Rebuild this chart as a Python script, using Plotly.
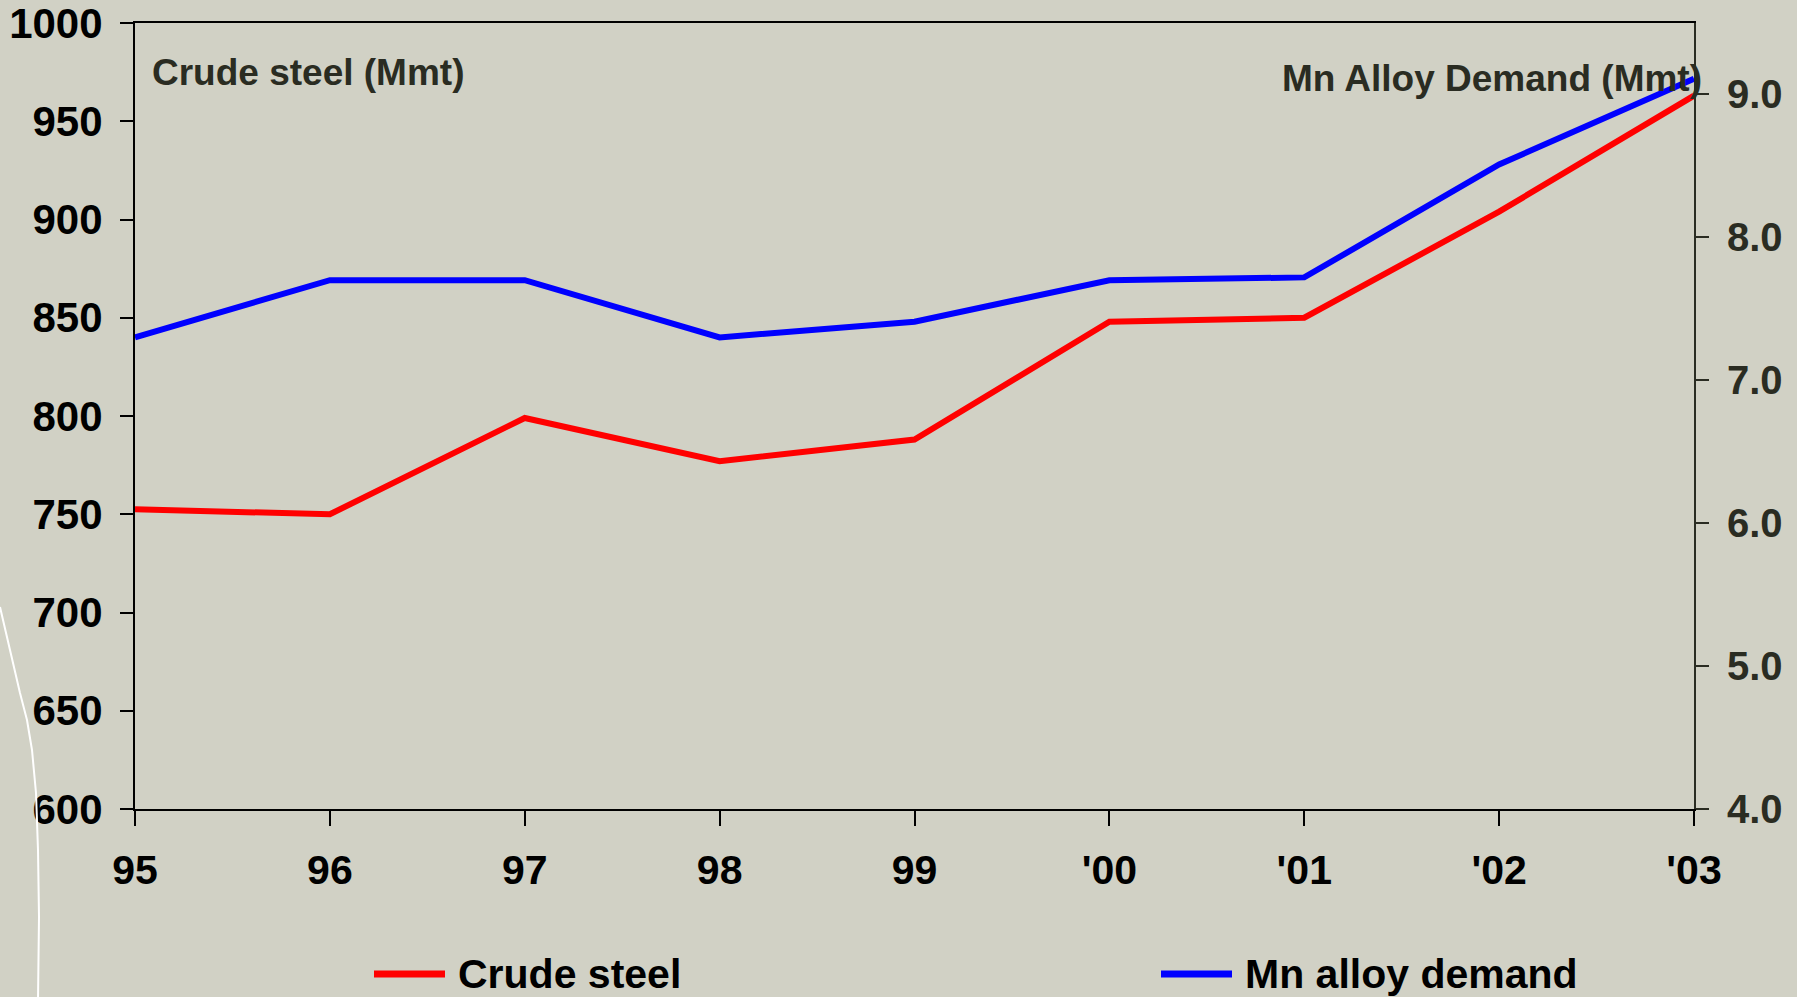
import plotly.graph_objects as go

# Year labels along the x axis
years = ["95", "96", "97", "98", "99", "'00", "'01", "'02", "'03"]

# Crude steel production, million metric tonnes (left axis)
crude_steel = [752.5, 750, 799, 777, 788, 848, 850, 904, 963]

# Manganese alloy demand, million metric tonnes (right axis)
mn_alloy = [7.30, 7.70, 7.70, 7.30, 7.41, 7.70, 7.72, 8.51, 9.11]

# Tick values / labels
left_ticks = [600, 650, 700, 750, 800, 850, 900, 950, 1000]
right_ticks = [4.0, 5.0, 6.0, 7.0, 8.0, 9.0]
right_tick_text = [f"{v:.1f}" for v in right_ticks]

BG = "#d1d1c5"
DARK = "#2a2c22"
SANS = "Liberation Sans, Arial, sans-serif"

fig = go.Figure()
fig.add_trace(go.Scatter(
    x=years, y=crude_steel, mode="lines", name="Crude steel",
    line=dict(color="#ff0000", width=6), showlegend=False, yaxis="y",
))
fig.add_trace(go.Scatter(
    x=years, y=mn_alloy, mode="lines", name="Mn alloy demand",
    line=dict(color="#0000ff", width=6), showlegend=False, yaxis="y2",
))

W, H = 1797, 997
L, R, T, B = 135, 103, 23, 188
PW, PH = W - L - R, H - T - B


def px(x):
    return (x - L) / PW


def py(y):
    return (H - B - y) / PH


fig.update_layout(
    width=W, height=H,
    margin=dict(l=L, r=R, t=T, b=B, pad=0, autoexpand=False),
    paper_bgcolor=BG, plot_bgcolor=BG,
    showlegend=False,
    xaxis=dict(
        type="category", range=[0, 8], automargin=False,
        showgrid=False, zeroline=False,
        showline=True, linecolor="black", linewidth=2, mirror=True,
        ticks="outside", ticklen=15, tickwidth=2, tickcolor="black",
        ticklabelstandoff=9, ticklabeloverflow="allow",
        tickfont=dict(family=SANS, size=41, color="black", weight="bold"),
    ),
    yaxis=dict(
        range=[600, 1000], tickvals=left_ticks, automargin=False,
        showgrid=False, zeroline=False,
        showline=True, linecolor="black", linewidth=2,
        ticks="outside", ticklen=13, tickwidth=2, tickcolor="black",
        ticklabelstandoff=9, ticklabeloverflow="allow",
        tickfont=dict(family=SANS, size=42, color="black", weight="bold"),
    ),
    yaxis2=dict(
        range=[4.0, 9.5], tickvals=right_ticks, ticktext=right_tick_text,
        overlaying="y", side="right", automargin=False,
        showgrid=False, zeroline=False,
        showline=True, linecolor=DARK, linewidth=2,
        ticks="outside", ticklen=13, tickwidth=2, tickcolor=DARK,
        ticklabelstandoff=10, ticklabeloverflow="allow",
        tickfont=dict(family=SANS, size=40, color=DARK, weight="bold"),
    ),
    # inner half of the cross ticks on the right-hand axis
    yaxis3=dict(
        range=[4.0, 9.5], tickvals=right_ticks,
        overlaying="y", side="right", automargin=False,
        showgrid=False, zeroline=False, showline=False,
        ticks="inside", ticklen=15, tickwidth=2, tickcolor=DARK,
        showticklabels=False,
    ),
)

# Axis captions inside the plot area
fig.add_annotation(
    text="Crude steel (Mmt)", xref="paper", yref="paper",
    x=px(150), y=py(73), xanchor="left", yanchor="middle", showarrow=False,
    font=dict(family=SANS, size=37, color=DARK, weight="bold"),
)
fig.add_annotation(
    text="Mn Alloy Demand (Mmt)", xref="paper", yref="paper",
    x=px(1704), y=py(78), xanchor="right", yanchor="middle", showarrow=False,
    font=dict(family=SANS, size=37, color=DARK, weight="bold"),
)

# Legend keys drawn below the axis
legend_items = [("Crude steel", "#ff0000", 374, 445, 456),
                ("Mn alloy demand", "#0000ff", 1161, 1232, 1243)]
for label, color, x0, x1, xt in legend_items:
    fig.add_shape(type="line", xref="paper", yref="paper",
                  x0=px(x0), x1=px(x1), y0=py(974), y1=py(974),
                  line=dict(color=color, width=7))
    fig.add_annotation(
        text=label, xref="paper", yref="paper",
        x=px(xt), y=py(974), xanchor="left", yanchor="middle", showarrow=False,
        font=dict(family=SANS, size=41, color="black", weight="bold"),
    )

# Thin white arc along the left edge of the slide
arc = [(0, 607), (10, 650), (20, 693), (27, 720), (32, 750), (36, 793),
       (38, 850), (39, 917), (38, 1000)]
path = "M " + " L ".join(f"{px(x):.5f},{py(y):.5f}" for x, y in arc)
fig.add_shape(type="path", xref="paper", yref="paper", path=path,
              line=dict(color="white", width=2))

fig.write_html("out.html")
